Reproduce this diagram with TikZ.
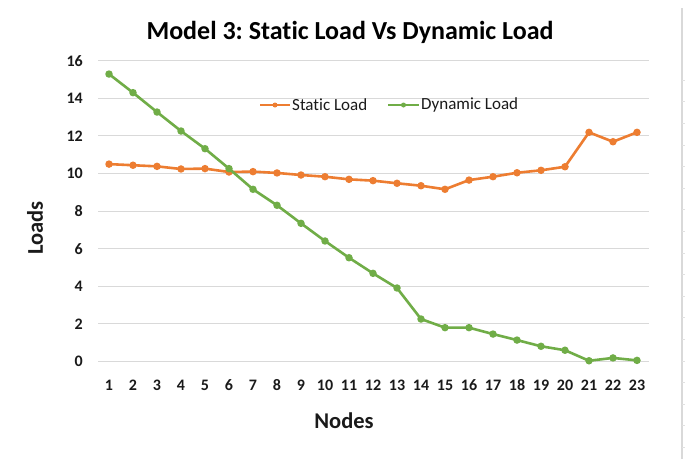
\documentclass[tikz,border=0pt]{standalone}
\usepackage{fontspec}
\setmainfont{Carlito}[Ligatures={NoCommon,NoRare,NoContextual}]
\frenchspacing
\definecolor{sorange}{HTML}{ED7D31}
\definecolor{dgreen}{HTML}{70AD47}
\definecolor{gridc}{HTML}{D9D9D9}
\definecolor{txt}{HTML}{1A1A1A}
\begin{document}
\begin{tikzpicture}[x=1pt,y=-1pt,
  gridline/.style={draw=gridc, line width=0.9pt},
  ticklabel/.style={font=\fontsize{16}{18}\selectfont\bfseries, inner sep=0pt, text=txt},
  axlabel/.style={font=\fontsize{22.5}{26}\selectfont\bfseries, inner sep=0pt, text=txt},
  legtext/.style={font=\fontsize{17}{20}\selectfont, inner sep=0pt, text=txt, anchor=west},
  series/.style={line width=2.6pt, line join=round, line cap=round},
  dot/.style={circle, inner sep=0pt, minimum size=7.5pt},
  legdot/.style={circle, inner sep=0pt, minimum size=5pt},
  legline/.style={line width=2.8pt}
]
\useasboundingbox (0,0) rectangle (686,459);
\fill[white] (0,0) rectangle (686,459);
% right border line with faint ticks
\draw[draw=gridc, line width=1.2pt] (682,8) coordinate (rb1) -- (682,459) coordinate (rb2);
\foreach \k in {0,...,17} {
  \draw[draw=gridc!80, line width=0.6pt] (682,{80+21.6*\k}) -- (685,{80+21.6*\k});
}
% title
\node[font=\fontsize{26}{30}\selectfont\bfseries, text=black, inner sep=0pt] (title) at (350,32) {Model 3: Static Load Vs Dynamic Load};
% gridlines and y labels
\foreach \v in {0,2,...,16} {
  \draw[gridline] (98,{361.5-18.8*\v}) coordinate (gla\v) -- (649,{361.5-18.8*\v}) coordinate (glb\v);
  \node[ticklabel, anchor=east] (yl\v) at (83,{361.5-18.8*\v}) {\v};
}
% x labels
\foreach \i in {1,...,23} {
  \node[ticklabel] (xl\i) at ({109+24*(\i-1)},385) {\i};
}
% axis titles
\node[axlabel, rotate=90] (ylab) at (35,228) {Loads};
\node[axlabel] (xlab) at (344,421) {Nodes};
% data
\foreach \v [count=\i] in {10.5,10.44,10.38,10.24,10.26,10.08,10.1,10.03,9.92,9.83,9.69,9.62,9.48,9.35,9.16,9.65,9.83,10.04,10.17,10.36,12.19,11.69,12.19} {
  \coordinate (s\i) at ({109+24*(\i-1)},{361.5-18.8*\v});
}
\foreach \v [count=\i] in {15.29,14.3,13.27,12.26,11.32,10.26,9.16,8.31,7.35,6.41,5.52,4.69,3.91,2.26,1.8,1.8,1.46,1.14,0.81,0.6,0.04,0.19,0.06} {
  \coordinate (d\i) at ({109+24*(\i-1)},{361.5-18.8*\v});
}
\draw[series, sorange] (s1) \foreach \i in {2,...,23} { -- (s\i) };
\foreach \i in {1,...,23} { \node[dot, fill=sorange] (sm\i) at (s\i) {}; }
\draw[series, dgreen] (d1) \foreach \i in {2,...,23} { -- (d\i) };
\foreach \i in {1,...,23} { \node[dot, fill=dgreen] (dm\i) at (d\i) {}; }
% legend
\coordinate (lsa) at (260,105); \coordinate (lsb) at (290,105);
\draw[legline, sorange] (lsa) -- (lsb);
\node[legdot, fill=sorange] (lsm) at (275,105) {};
\node[legtext] (lst) at (292,105) {Static Load};
\coordinate (lda) at (388,105); \coordinate (ldb) at (419,105);
\draw[legline, dgreen] (lda) -- (ldb);
\node[legdot, fill=dgreen] (ldm) at (403.5,105) {};
\node[legtext] (ldt) at (421,105) {Dynamic Load};
\end{tikzpicture}
\end{document}
